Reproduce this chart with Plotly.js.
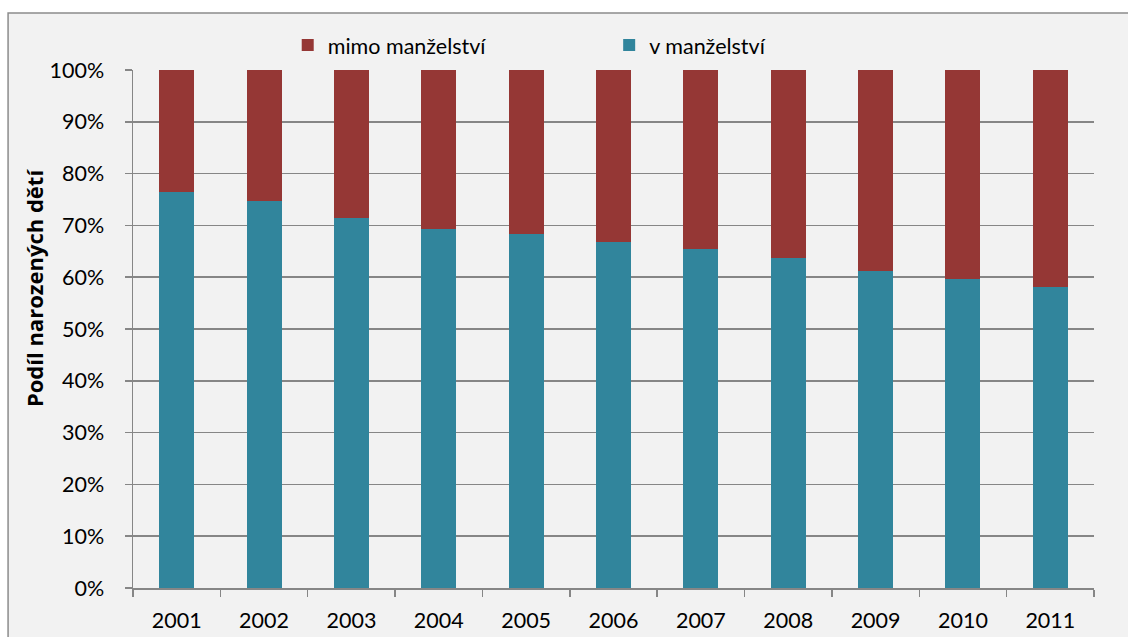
<!DOCTYPE html>
<html><head><meta charset="utf-8">
<script src="https://cdn.plot.ly/plotly-3.0.1.min.js"></script>
<style>html,body{margin:0;padding:0;background:#fff;overflow:hidden}</style>
</head><body>
<div id="chart" style="width:1128px;height:637px"></div>
<script>
const years = ['2001','2002','2003','2004','2005','2006','2007','2008','2009','2010','2011'];
const vManzelstvi = [76.5, 74.7, 71.5, 69.4, 68.3, 66.7, 65.5, 63.7, 61.2, 59.7, 58.2];
const mimoManzelstvi = [23.5, 25.3, 28.5, 30.6, 31.7, 33.3, 34.5, 36.3, 38.8, 40.3, 41.8];
const yTicks = [0,10,20,30,40,50,60,70,80,90,100];
const yTickLabels = yTicks.map(v => v + '%');
const yTitle = 'Podíl narozených dětí';

const font = 'Lato, "Open Sans", sans-serif';
const fs = 21.5;
const data = [
  {type:'bar', name:'v manželství', x: years, y: vManzelstvi, marker:{color:'#31859c'}, legend:'legend2'},
  {type:'bar', name:'mimo manželství', x: years, y: mimoManzelstvi, marker:{color:'#953735'}, legend:'legend'}
];
const legBase = {orientation:'h', y:1.048, yanchor:'middle', bgcolor:'rgba(0,0,0,0)', font:{family:font, size:fs, color:'#000'}};
const layout = {
  width:1128, height:637,
  barmode:'stack', bargap:0.6,
  paper_bgcolor:'#ffffff', plot_bgcolor:'#ffffff',
  margin:{l:133, r:34, t:70, b:49},
  font:{family:font, size:fs, color:'#000'},
  showlegend:true,
  legend:Object.assign({}, legBase, {x:0.161, xanchor:'left'}),
  legend2:Object.assign({}, legBase, {x:0.4955, xanchor:'left'}),
  xaxis:{type:'category', tickson:'boundaries', ticks:'outside', ticklen:7, tickcolor:'#868686', tickwidth:1.5,
         showline:true, linecolor:'#868686', linewidth:1.5, showgrid:false, tickfont:{size:fs},
         ticklabelstandoff:13, automargin:false, fixedrange:true},
  yaxis:{range:[0,100], tickvals:yTicks, ticktext:yTickLabels, ticks:'outside', ticklen:7, tickcolor:'#868686', tickwidth:1.5,
         showline:true, linecolor:'#868686', linewidth:1.5, gridcolor:'#868686', gridwidth:1.5,
         zeroline:false, tickfont:{size:fs}, ticklabelstandoff:16, automargin:false, fixedrange:true},
  annotations:[{text:'<b>' + yTitle + '</b>', textangle:-90, xref:'paper', yref:'paper',
                x:-0.103, y:0.579, xanchor:'center', yanchor:'middle', showarrow:false,
                font:{family:'"Open Sans", Lato, sans-serif', size:22, color:'#000'}}],
  shapes:[{type:'rect', xref:'paper', yref:'paper', x0:-0.130, x1:1.04, y0:-0.2, y1:1.110,
           fillcolor:'#f2f2f2', line:{color:'#8c8c8c', width:1.5}, layer:'below'}]
};
Plotly.newPlot('chart', data, layout, {displayModeBar:false, staticPlot:true});
</script>
</body></html>
